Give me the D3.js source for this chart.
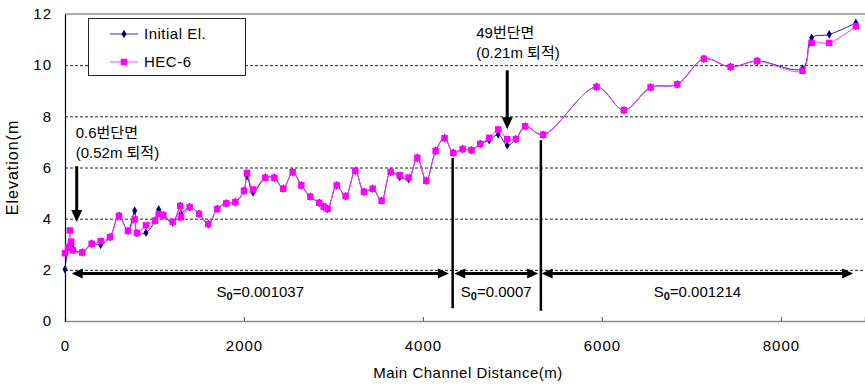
<!DOCTYPE html>
<html>
<head>
<meta charset="utf-8">
<script src="https://cdn.jsdelivr.net/npm/d3@7"></script>
<style>
  body { margin: 0; background: #fff; }
  svg { display: block; font-family: "Liberation Sans", "Noto Sans CJK KR", sans-serif; }
</style>
</head>
<body>
<svg id="chart"></svg>
<script>
// cross-section distances (m)
const distance = [0, 35, 55, 70, 90, 193, 298, 399, 503, 603, 704, 779, 804, 905, 1006, 1047, 1099, 1203, 1288, 1296,
  1393, 1498, 1601, 1702, 1802, 1903, 2000, 2034, 2101, 2238, 2339, 2439, 2544, 2641, 2741, 2841, 2890, 2935,
  3036, 3136, 3244, 3341, 3438, 3538, 3639, 3740, 3840, 3937, 4037, 4142, 4242, 4339, 4444, 4542, 4640, 4741,
  4841, 4942, 5039, 5143, 5344, 5940, 6246, 6544, 6841, 7140, 7438, 7735, 8242, 8343, 8540, 8838];

const initialEl = [2.02, 2.88, 3.05, 2.95, 2.82, 2.68, 3.02, 2.98, 3.28, 4.11, 3.52, 4.31, 3.44, 3.45, 3.92, 4.36, 4.13, 3.85, 4.50, 4.20,
  4.45, 4.19, 3.79, 4.38, 4.60, 4.65, 5.09, 5.66, 5.03, 5.60, 5.60, 5.17, 5.82, 5.30, 4.86, 4.62, 4.47, 4.38,
  5.30, 4.88, 5.87, 5.05, 5.17, 4.70, 5.83, 5.63, 5.55, 6.38, 5.48, 6.65, 7.15, 6.57, 6.72, 6.68, 6.92, 7.07,
  7.29, 6.87, 7.11, 7.61, 7.28, 9.15, 8.24, 9.13, 9.25, 10.25, 9.93, 10.16, 9.87, 11.07, 11.20, 11.65];

const hec6 = [2.65, 2.87, 3.54, 3.10, 2.76, 2.68, 3.02, 3.12, 3.28, 4.11, 3.52, 3.97, 3.44, 3.74, 3.92, 4.18, 4.13, 3.88, 4.50, 4.05,
  4.45, 4.19, 3.79, 4.38, 4.60, 4.65, 5.09, 5.79, 5.14, 5.60, 5.60, 5.17, 5.82, 5.30, 4.86, 4.62, 4.47, 4.38,
  5.30, 4.88, 5.87, 5.05, 5.17, 4.70, 5.83, 5.70, 5.61, 6.38, 5.48, 6.65, 7.15, 6.57, 6.72, 6.68, 6.92, 7.16,
  7.49, 7.11, 7.11, 7.61, 7.28, 9.15, 8.24, 9.13, 9.25, 10.25, 9.93, 10.16, 9.78, 10.87, 10.87, 11.52];

const xTicks = [0, 2000, 4000, 6000, 8000];
const yTicks = [0, 2, 4, 6, 8, 10, 12];

// reach breaks and slopes
const reachBreaks = [4332, 5318];
const reaches = [
  { from: 75, to: 4290, label: "0.001037" },
  { from: 4350, to: 5288, label: "0.0007" },
  { from: 5326, to: 8808, label: "0.001214" }
];
const sections = [
  { x: 131, top: 6.05, tip: 3.87, lines: ["0.6번단면", "(0.52m 퇴적)"], dx: -1, dy: -28 },
  { x: 4942, top: 9.8, tip: 7.5, lines: ["49번단면", "(0.21m 퇴적)"], dx: -31, dy: -32 }
];

const width = 865, height = 385;
const margin = { top: 14, right: 0, bottom: 64, left: 65 };

const svg = d3.select("#chart").attr("width", width).attr("height", height);

const x = d3.scaleLinear().domain([0, 8940]).range([margin.left, width - margin.right]);
const y = d3.scaleLinear().domain([0, 12]).range([height - margin.bottom, margin.top]);

// grid
svg.append("g")
  .selectAll("line")
  .data(yTicks.filter(d => d > 0 && d < 12))
  .join("line")
  .attr("x1", x(0)).attr("x2", x.range()[1])
  .attr("y1", d => y(d) + 0.5).attr("y2", d => y(d) + 0.5)
  .attr("stroke", "#222").attr("stroke-dasharray", "3,2").attr("stroke-width", 1);

// top border
svg.append("line")
  .attr("x1", x(0)).attr("x2", x.range()[1])
  .attr("y1", y(12)).attr("y2", y(12))
  .attr("stroke", "#aaa").attr("stroke-width", 2);

// axes
const xAxis = svg.append("g")
  .attr("transform", `translate(0,${y(0)})`)
  .call(d3.axisBottom(x).tickValues(xTicks).tickSize(-4).tickPadding(19).tickFormat(d3.format("d")));
xAxis.select(".domain").attr("stroke", "#888").attr("stroke-width", 1.5);
xAxis.selectAll(".tick line").attr("stroke", "#555");
xAxis.selectAll("text").attr("font-size", 15).attr("fill", "#000").style("letter-spacing", "1px");

const yAxis = svg.append("g")
  .attr("transform", `translate(${x(0)},0)`)
  .call(d3.axisLeft(y).tickValues(yTicks).tickSize(0).tickPadding(13));
yAxis.select(".domain").attr("stroke", "#000").attr("stroke-width", 1.2);
yAxis.selectAll("text").attr("font-size", 15).attr("fill", "#000").style("letter-spacing", "1px");

svg.append("text")
  .attr("x", (x(0) + x.range()[1]) / 2 + 3)
  .attr("y", 378)
  .attr("text-anchor", "middle")
  .attr("font-size", 15)
  .style("letter-spacing", "0.5px")
  .text("Main Channel Distance(m)");

svg.append("text")
  .attr("transform", `translate(18,${(y(0) + y(12)) / 2}) rotate(-90)`)
  .attr("text-anchor", "middle")
  .attr("font-size", 16)
  .style("letter-spacing", "1px")
  .text("Elevation(m");

// series
const line = d3.line()
  .x(d => x(d[0]))
  .y(d => y(d[1]))
  .curve(d3.curveCatmullRom.alpha(0.5));

const series = [
  { name: "Initial El.", values: initialEl, color: "#000080", line: "#1c1c96", symbol: d3.symbolDiamond, size: 22 },
  { name: "HEC-6", values: hec6, color: "#ff00ff", line: "#ff33ff", symbol: d3.symbolSquare, size: 42 }
];

series.forEach(s => {
  const pts = distance.map((d, i) => [d, s.values[i]]);
  svg.append("path")
    .attr("d", line(pts))
    .attr("fill", "none")
    .attr("stroke", s.line)
    .attr("stroke-width", 1);
  svg.append("g")
    .selectAll("path")
    .data(pts)
    .join("path")
    .attr("transform", d => `translate(${x(d[0])},${y(d[1])})`)
    .attr("d", d3.symbol().type(s.symbol).size(s.size))
    .attr("fill", s.color);
});

// arrowhead helper
function head(tx, ty, dx, dy, len = 11, w = 5) {
  const px = -dy, py = dx;
  return `M${tx},${ty}L${tx - dx * len + px * w},${ty - dy * len + py * w}L${tx - dx * len - px * w},${ty - dy * len - py * w}Z`;
}

const ann = svg.append("g");

// reach dividers
ann.selectAll("line.div")
  .data(reachBreaks)
  .join("line")
  .attr("class", "div")
  .attr("x1", d => x(d)).attr("x2", d => x(d))
  .attr("y1", (d, i) => y([6.37, 7.07][i])).attr("y2", (d, i) => y([0.5, 0.4][i]))
  .attr("stroke", "#000").attr("stroke-width", 2.5);

// reach arrows
const ay = y(1.86);
reaches.forEach(r => {
  const x1 = x(r.from), x2 = x(r.to);
  ann.append("line")
    .attr("x1", x1 + 6).attr("x2", x2 - 6)
    .attr("y1", ay).attr("y2", ay)
    .attr("stroke", "#000").attr("stroke-width", 3);
  ann.append("path").attr("d", head(x2, ay, 1, 0)).attr("fill", "#000");
  ann.append("path").attr("d", head(x1, ay, -1, 0)).attr("fill", "#000");
  const t = ann.append("text")
    .attr("x", (x1 + x2) / 2)
    .attr("y", ay + 24)
    .attr("text-anchor", "middle")
    .attr("font-size", 15);
  t.append("tspan").text("S");
  t.append("tspan").attr("font-size", 11).attr("font-weight", "bold").attr("dy", 3).text("0");
  t.append("tspan").attr("dy", -3).text("=" + r.label);
});

// section arrows
sections.forEach(s => {
  const sx = x(s.x);
  ann.append("line")
    .attr("x1", sx).attr("x2", sx)
    .attr("y1", y(s.top)).attr("y2", y(s.tip) - 8)
    .attr("stroke", "#000").attr("stroke-width", 3);
  ann.append("path").attr("d", head(sx, y(s.tip), 0, 1, 12, 5.5)).attr("fill", "#000");
  ann.selectAll(null)
    .data(s.lines)
    .join("text")
    .attr("x", sx + s.dx)
    .attr("y", (d, i) => y(s.top) + s.dy + i * 20)
    .attr("font-size", 15)
    .text(d => d);
});

// legend
const lg = svg.append("g").attr("transform", "translate(88,18)");
lg.append("rect")
  .attr("x", 0.5).attr("y", 0.5).attr("width", 157).attr("height", 57)
  .attr("fill", "#fff").attr("stroke", "#222");
series.forEach((s, i) => {
  const gy = 16 + i * 28;
  lg.append("line")
    .attr("x1", 22).attr("x2", 50).attr("y1", gy).attr("y2", gy)
    .attr("stroke", s.line).attr("stroke-width", 1.5).attr("stroke-opacity", 0.6);
  lg.append("path")
    .attr("transform", `translate(36,${gy})`)
    .attr("d", d3.symbol().type(s.symbol).size(s.size))
    .attr("fill", s.color);
  lg.append("text")
    .attr("x", 56).attr("y", gy + 5)
    .attr("font-size", 15)
    .style("letter-spacing", "0.5px")
    .text(s.name);
});
</script>
</body>
</html>
